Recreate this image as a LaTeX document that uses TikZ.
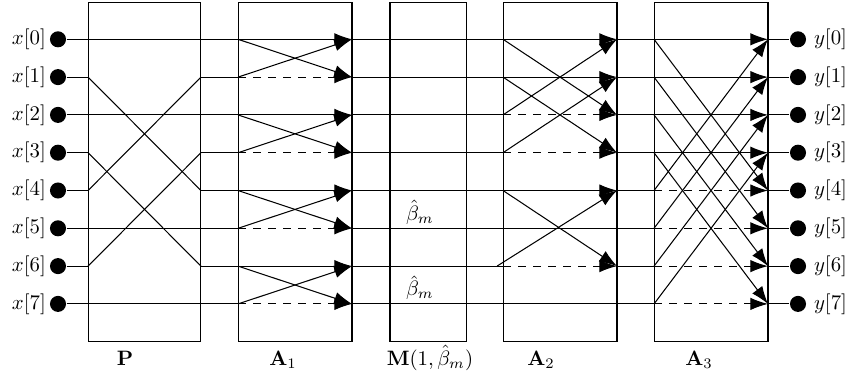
\documentclass[tikz,border=0pt]{standalone}
\usepackage{amsmath,amssymb}
\usepackage{tikz}
\usetikzlibrary{arrows.meta, positioning}
\tikzstyle{stage} = [rectangle, draw=black, inner sep=0pt, outer sep=0pt, minimum height=163pt]
\tikzstyle{dot} = [circle, fill=black, inner sep=0pt, minimum size=7.7pt]
\tikzstyle{arrow} = [-{Latex[length=8.5pt,width=6pt]}]
\tikzstyle{skip} = [dash pattern=on 3.8pt off 3.4pt]

\begin{document}
\begin{tikzpicture}[x=0.48pt, y=-0.48pt, line width=0.5pt]
  \useasboundingbox (0,0) rectangle (850,375);
  % stages
  \node (P)  [stage, minimum width=54.2pt] at (144.5,171.9) {};
  \node (A1) [stage, minimum width=54.7pt] at (295,171.9) {};
  \node (M)  [stage, minimum width=36.5pt] at (428,171.9) {};
  \node (A2) [stage, minimum width=54.7pt] at (560,171.9) {};
  \node (A3) [stage, minimum width=54.7pt] at (711,171.9) {};

  % inputs, outputs and the wires between the stages
  \foreach \k in {0,...,7} {
    \node (in\k) [dot] at (58,{39.3+37.8*\k}) {};
    \node (out\k) [dot] at (798,{39.3+37.8*\k}) {};
    \node (xl\k) [left=0pt of in\k, inner sep=1.5pt] {$x[\k]$};
    \node (yl\k) [right=0pt of out\k] {$y[\k]$};
    \draw (in\k) -- (P.west |- in\k);
    \draw (P.east |- in\k) -- (A1.west |- in\k);
    \draw (A1.east |- in\k) -- (A2.west |- in\k);
    \draw (A2.east |- in\k) -- (A3.west |- in\k);
    \draw (A3.east |- in\k) -- (out\k);
  }

  % P: bit reversal
  \foreach \i/\j in {0/0,1/4,2/2,3/6,4/1,5/5,6/3,7/7}
    \draw (P.west |- in\i) -- (P.east |- in\j);

  % A1
  \foreach \a/\b in {0/1,2/3,4/5,6/7} {
    \draw[arrow] (A1.west |- in\a) -- (A1.east |- in\a);
    \draw[arrow, skip] (A1.west |- in\b) -- (A1.east |- in\b);
    \draw[arrow] (A1.west |- in\a) -- (A1.east |- in\b);
    \draw[arrow] (A1.west |- in\b) -- (A1.east |- in\a);
  }

  % A2
  \foreach \a/\b in {0/2,1/3} {
    \draw[arrow] (A2.west |- in\a) -- (A2.east |- in\a);
    \draw[arrow, skip] (A2.west |- in\b) -- (A2.east |- in\b);
    \draw[arrow] (A2.west |- in\a) -- (A2.east |- in\b);
    \draw[arrow] (A2.west |- in\b) -- (A2.east |- in\a);
  }
  \path (A2.west |- in6) ++(-6,0) coordinate (a2six);
  \draw[arrow] (A2.west |- in4) -- (A2.east |- in4);
  \draw[arrow, skip] (A2.west |- in6) -- (A2.east |- in6);
  \draw[arrow] (A2.west |- in4) -- (A2.east |- in6);
  \draw[arrow] (a2six) -- (A2.east |- in4);
  \draw (A2.west |- in5) -- (A2.east |- in5);
  \draw (A2.west |- in7) -- (A2.east |- in7);

  % A3
  \foreach \a/\b in {0/4,1/5,2/6,3/7} {
    \draw[arrow] (A3.west |- in\a) -- (A3.east |- in\a);
    \draw[arrow, skip] (A3.west |- in\b) -- (A3.east |- in\b);
    \draw[arrow] (A3.west |- in\a) -- (A3.east |- in\b);
    \draw[arrow] (A3.west |- in\b) -- (A3.east |- in\a);
  }

  % labels
  \node (b5) [anchor=base, inner sep=1pt] at (420,220) {$\hat{\beta}_m$};
  \node (b7) [anchor=base, inner sep=1pt] at (420,295.6) {$\hat{\beta}_m$};
  \node (Plab)  [anchor=base] at (125,365) {$\mathbf{P}$};
  \node (A1lab) [anchor=base] at (283,365) {$\mathbf{A}_1$};
  \node (Mlab)  [anchor=base] at (430,365) {$\mathbf{M}(1,\hat{\beta}_m)$};
  \node (A2lab) [anchor=base] at (541,365) {$\mathbf{A}_2$};
  \node (A3lab) [anchor=base] at (699,365) {$\mathbf{A}_3$};
\end{tikzpicture}
\end{document}
